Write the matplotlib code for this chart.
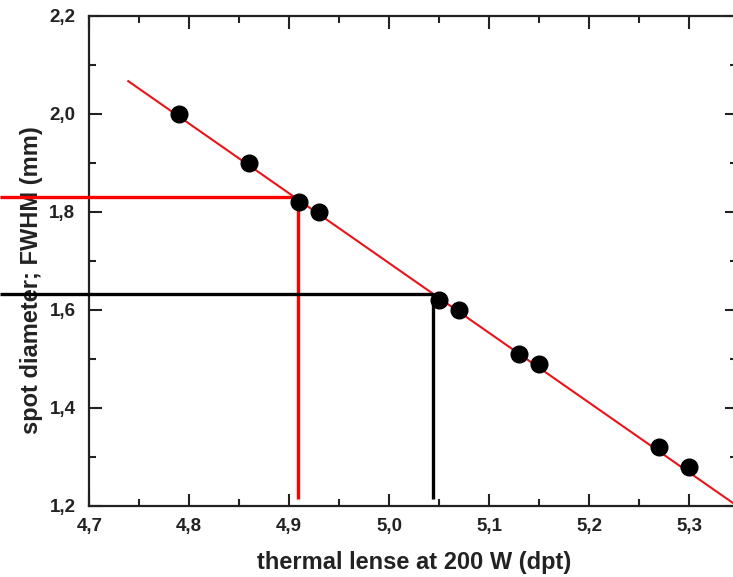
import matplotlib
matplotlib.use("Agg")
import matplotlib.pyplot as plt
from matplotlib.ticker import FuncFormatter, MultipleLocator

plt.rcParams['font.family'] = ['Liberation Sans', 'DejaVu Sans']

# Data
x_points = [4.79, 4.86, 4.91, 4.93, 5.05, 5.07, 5.13, 5.15, 5.27, 5.30]
y_points = [2.00, 1.90, 1.82, 1.80, 1.62, 1.60, 1.51, 1.49, 1.32, 1.28]
fit_x = [4.739, 5.344]
fit_y = [2.067, 1.206]
red_marker = (4.909, 1.830)
black_marker = (5.044, 1.633)
guide_bottom = 1.214
x_left_edge = 4.611
xlabel = "thermal lense at 200 W (dpt)"
ylabel = "spot diameter; FWHM (mm)"

fig = plt.figure(figsize=(7.33, 5.77), dpi=100)
ax = fig.add_axes([0.1218, 0.1231, 0.8837, 0.8492])
ax.set_xlim(4.7, 5.348)
ax.set_ylim(1.2, 2.2)

ax.plot(fit_x, fit_y, color='#e8141a', lw=1.5, zorder=2)

for (gx, gy), col in [(red_marker, '#ff0000'), (black_marker, 'black')]:
    ax.plot([x_left_edge, gx], [gy, gy], color=col, lw=2.4, clip_on=False, solid_capstyle='butt', zorder=3)
    ax.plot([gx, gx], [gy, guide_bottom], color=col, lw=2.4, clip_on=False, solid_capstyle='butt', zorder=3)

ax.plot(x_points, y_points, 'o', color='black', markersize=12, zorder=4)

for s in ax.spines.values():
    s.set_linewidth(1.6)
    s.set_color('#222222')

ax.xaxis.set_major_locator(MultipleLocator(0.1))
ax.xaxis.set_minor_locator(MultipleLocator(0.05))
ax.yaxis.set_major_locator(MultipleLocator(0.2))
ax.yaxis.set_minor_locator(MultipleLocator(0.1))
fmt = FuncFormatter(lambda v, p: f"{v:.1f}".replace('.', ','))
ax.xaxis.set_major_formatter(fmt)
ax.yaxis.set_major_formatter(fmt)
ax.tick_params(which='both', direction='in', top=True, right=True, width=1.5, color='#222222')
ax.tick_params(which='major', length=9)
ax.tick_params(which='minor', length=5)
ax.tick_params(axis='x', labelsize=13.5, pad=9)
ax.tick_params(axis='y', labelsize=13.5, pad=10)
for lab in ax.get_xticklabels() + ax.get_yticklabels():
    lab.set_fontweight('bold')
    lab.set_color('#222222')

ax.set_xlabel(xlabel, fontsize=17, fontweight='bold', color='#222222')
ax.set_ylabel(ylabel, fontsize=17, fontweight='bold', color='#222222')
ax.xaxis.set_label_coords((414 - 89.3) / 647.7, -(563 - 506) / 490)
ax.yaxis.set_label_coords(-(89.3 - 32) / 647.7, 1 - (280 - 16) / 490)
ax.xaxis.label.set_va('center')
ax.yaxis.label.set_va('center')

fig.savefig("out.png", dpi=100)
